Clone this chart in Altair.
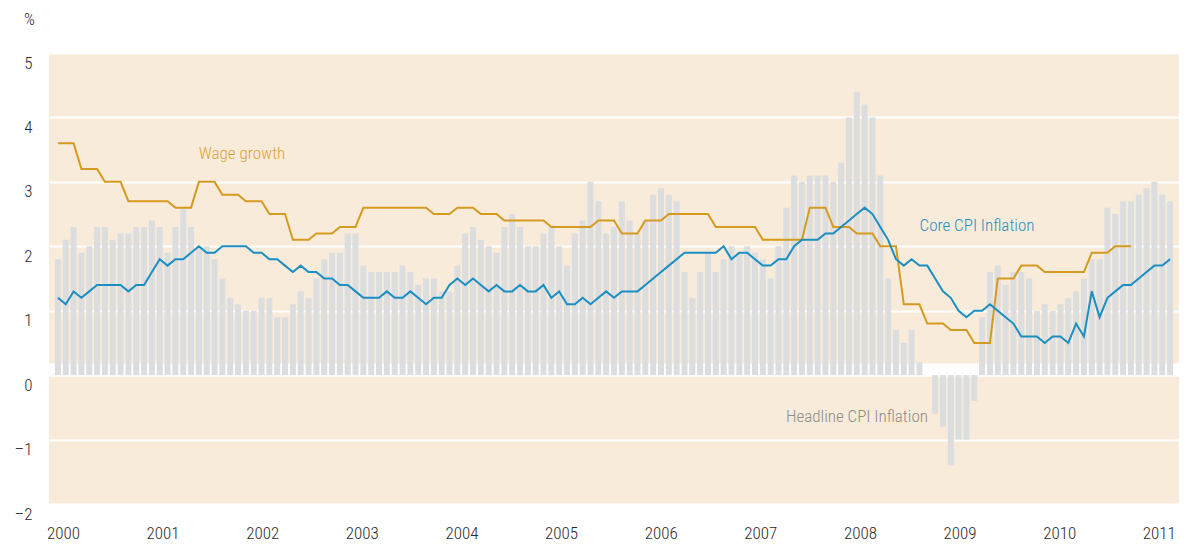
import altair as alt
import pandas as pd

# ---------------- data (monthly, Jan 2000 onwards) ----------------
HEADLINE = [
    1.8, 2.1, 2.3, 1.9, 2.0, 2.3, 2.3, 2.1, 2.2, 2.2, 2.3, 2.3,
    2.4, 2.3, 1.9, 2.3, 2.6, 2.3, 2.0, 2.0, 1.8, 1.5, 1.2, 1.1,
    1.0, 1.0, 1.2, 1.2, 0.9, 0.9, 1.1, 1.3, 1.2, 1.5, 1.8, 1.9,
    1.9, 2.2, 2.2, 1.7, 1.6, 1.6, 1.6, 1.6, 1.7, 1.6, 1.4, 1.5,
    1.5, 1.3, 1.3, 1.7, 2.2, 2.3, 2.1, 2.0, 1.9, 2.3, 2.5, 2.3,
    2.0, 2.0, 2.2, 2.3, 2.0, 1.7, 2.2, 2.4, 3.0, 2.7, 2.2, 2.3,
    2.7, 2.4, 2.2, 2.4, 2.8, 2.9, 2.8, 2.7, 1.6, 1.2, 1.6, 1.9,
    1.6, 1.8, 2.0, 1.9, 2.0, 1.9, 1.8, 1.5, 2.0, 2.6, 3.1, 3.0,
    3.1, 3.1, 3.1, 3.0, 3.3, 4.0, 4.4, 4.2, 4.0, 3.1, 1.5, 0.7,
    0.5, 0.7, 0.2, 0.0, -0.6, -0.8, -1.4, -1.0, -1.0, -0.4, 0.9, 1.6,
    1.7, 1.4, 1.6, 1.6, 1.5, 1.0, 1.1, 1.0, 1.1, 1.2, 1.3, 1.5,
    1.8, 1.8, 2.6, 2.5, 2.7, 2.7, 2.8, 2.9, 3.0, 2.8, 2.7,
]
CORE = [
    1.2, 1.1, 1.3, 1.2, 1.3, 1.4, 1.4, 1.4, 1.4, 1.3, 1.4, 1.4,
    1.6, 1.8, 1.7, 1.8, 1.8, 1.9, 2.0, 1.9, 1.9, 2.0, 2.0, 2.0,
    2.0, 1.9, 1.9, 1.8, 1.8, 1.7, 1.6, 1.7, 1.6, 1.6, 1.5, 1.5,
    1.4, 1.4, 1.3, 1.2, 1.2, 1.2, 1.3, 1.2, 1.2, 1.3, 1.2, 1.1,
    1.2, 1.2, 1.4, 1.5, 1.4, 1.5, 1.4, 1.3, 1.4, 1.3, 1.3, 1.4,
    1.3, 1.3, 1.4, 1.2, 1.3, 1.1, 1.1, 1.2, 1.1, 1.2, 1.3, 1.2,
    1.3, 1.3, 1.3, 1.4, 1.5, 1.6, 1.7, 1.8, 1.9, 1.9, 1.9, 1.9,
    1.9, 2.0, 1.8, 1.9, 1.9, 1.8, 1.7, 1.7, 1.8, 1.8, 2.0, 2.1,
    2.1, 2.1, 2.2, 2.2, 2.3, 2.4, 2.5, 2.6, 2.5, 2.3, 2.1, 1.8,
    1.7, 1.8, 1.7, 1.7, 1.5, 1.3, 1.2, 1.0, 0.9, 1.0, 1.0, 1.1,
    1.0, 0.9, 0.8, 0.6, 0.6, 0.6, 0.5, 0.6, 0.6, 0.5, 0.8, 0.6,
    1.3, 0.9, 1.2, 1.3, 1.4, 1.4, 1.5, 1.6, 1.7, 1.7, 1.8,
]
WAGE = [
    3.6, 3.6, 3.6, 3.2, 3.2, 3.2, 3.0, 3.0, 3.0, 2.7, 2.7, 2.7,
    2.7, 2.7, 2.7, 2.6, 2.6, 2.6, 3.0, 3.0, 3.0, 2.8, 2.8, 2.8,
    2.7, 2.7, 2.7, 2.5, 2.5, 2.5, 2.1, 2.1, 2.1, 2.2, 2.2, 2.2,
    2.3, 2.3, 2.3, 2.6, 2.6, 2.6, 2.6, 2.6, 2.6, 2.6, 2.6, 2.6,
    2.5, 2.5, 2.5, 2.6, 2.6, 2.6, 2.5, 2.5, 2.5, 2.4, 2.4, 2.4,
    2.4, 2.4, 2.4, 2.3, 2.3, 2.3, 2.3, 2.3, 2.3, 2.4, 2.4, 2.4,
    2.2, 2.2, 2.2, 2.4, 2.4, 2.4, 2.5, 2.5, 2.5, 2.5, 2.5, 2.5,
    2.3, 2.3, 2.3, 2.3, 2.3, 2.3, 2.1, 2.1, 2.1, 2.1, 2.1, 2.1,
    2.6, 2.6, 2.6, 2.3, 2.3, 2.3, 2.2, 2.2, 2.2, 2.0, 2.0, 2.0,
    1.1, 1.1, 1.1, 0.8, 0.8, 0.8, 0.7, 0.7, 0.7, 0.5, 0.5, 0.5,
    1.5, 1.5, 1.5, 1.7, 1.7, 1.7, 1.6, 1.6, 1.6, 1.6, 1.6, 1.6,
    1.9, 1.9, 1.9, 2.0, 2.0, 2.0,
]
YEAR_LABELS = ["2000", "2001", "2002", "2003", "2004", "2005",
               "2006", "2007", "2008", "2009", "2010", "2011"]
YEAR_TICKS = [0.64, 13.36, 26.08, 38.80, 51.52, 64.24,
              76.96, 89.68, 102.40, 115.12, 127.84, 140.56]
Y_TICKS = [-2, -1, 0, 1, 2, 3, 4, 5]

# ---------------- styling ----------------
FONT = ("Roboto Condensed, Open Sans Condensed, Liberation Sans Narrow, "
        "Arial Narrow, Roboto, sans-serif")
FW = 300
BG = "#f8ebd9"
BAR_C = "#dcdddf"
WAGE_C = "#d59b20"
CORE_C = "#1b8ec2"
TXT_C = "#2a2a2a"
W, H = 1130, 451

bars_df = pd.DataFrame({"m": list(range(len(HEADLINE))), "v": HEADLINE})
core_df = pd.DataFrame({"m": list(range(len(CORE))), "v": CORE})
wage_df = pd.DataFrame({"m": list(range(len(WAGE))), "v": WAGE})

label_expr = " : ".join(
    f"datum.value == {t} ? '{l}'" for t, l in zip(YEAR_TICKS, YEAR_LABELS)
) + " : ''"

x_enc = alt.X(
    "m:Q",
    scale=alt.Scale(domain=[-0.5, 142.5], nice=False, zero=False),
    axis=alt.Axis(
        values=YEAR_TICKS, labelExpr=label_expr, grid=False, ticks=False,
        domain=False, title=None, labelPadding=21, labelFontSize=17,
        labelFont=FONT, labelFontWeight=FW, labelColor=TXT_C,
        labelFlush=False, labelOverlap=False,
    ),
)
y_enc = alt.Y(
    "v:Q",
    scale=alt.Scale(domain=[-2, 5], nice=False, zero=False),
    axis=alt.Axis(
        values=Y_TICKS, grid=True, gridColor="white", gridWidth=2,
        ticks=False, domain=False, labelPadding=17, labelOffset=10,
        labelFontSize=17, labelFont=FONT, labelFontWeight=FW, labelColor=TXT_C,
        labelExpr="datum.value < 0 ? '\u2013' + abs(datum.value) : '' + datum.value",
        title="%", titleAngle=0, titleX=-20, titleY=-34, titleAlign="center",
        titleBaseline="middle", titleFontSize=17, titleFontWeight=FW,
        titleFont=FONT, titleColor=TXT_C,
    ),
)

band = alt.Chart(pd.DataFrame({"m": [0]})).mark_rect(color="white").encode(
    x=alt.value(0), x2=alt.value(W),
    y=alt.YDatum(0.18), y2=alt.Y2Datum(-0.02),
)
bars = alt.Chart(bars_df).mark_bar(color=BAR_C, size=6).encode(x=x_enc, y=y_enc)
core = alt.Chart(core_df).mark_line(color=CORE_C, strokeWidth=2).encode(x=x_enc, y=y_enc)
wage = alt.Chart(wage_df).mark_line(color=WAGE_C, strokeWidth=2).encode(x=x_enc, y=y_enc)

def note(text, color, px, py):
    return alt.Chart(pd.DataFrame({"t": [text]})).mark_text(
        font=FONT, fontSize=17, fontWeight=FW, color=color,
        align="center", baseline="middle"
    ).encode(text="t:N", x=alt.value(px), y=alt.value(py))

notes = [
    note("Wage growth", "#d9a33a", 193, 101),
    note("Core CPI Inflation", "#1f90c5", 928, 173),
    note("Headline CPI Inflation", "#8c8c8c", 808, 364),
]

chart = alt.layer(band, bars, wage, core, *notes).properties(
    width=W, height=H,
    autosize=alt.AutoSizeParams(type="none"),
    padding={"left": 41, "top": 45, "right": 0, "bottom": 41},
).configure_view(fill=BG, stroke=None)

chart.save("out.html", embed_options={"renderer": "svg", "actions": False})
